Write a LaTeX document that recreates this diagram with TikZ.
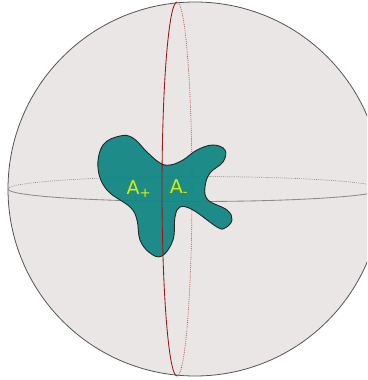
\documentclass[tikz,border=0pt]{standalone}
\usepackage{fontspec}
\setmainfont{DejaVu Sans}
\definecolor{SphereFill}{HTML}{EAE6E5}
\definecolor{SphereEdge}{HTML}{555555}
\definecolor{EquatorGray}{HTML}{8C8A8A}
\definecolor{MeridianRed}{HTML}{9A1616}
\definecolor{BlobTeal}{HTML}{128784}
\definecolor{LabelLime}{HTML}{D2F000}

\begin{document}
\begin{tikzpicture}[
    x=1pt, y=-1pt,
    sphere/.style={draw=SphereEdge, fill=SphereFill, line width=0.8pt},
    backline/.style={line width=0.7pt, dash pattern=on 0.8pt off 1.1pt},
    frontline/.style={line width=0.85pt},
    blob/.style={draw=black!85, fill=BlobTeal, fill opacity=0.95, line width=0.9pt},
    label/.style={text=LabelLime, font=\fontsize{19}{19}\selectfont, inner sep=0pt}
]
\useasboundingbox (0,0) rectangle (367,380);
\clip (0,0) rectangle (367,380);

% Sphere
\coordinate (centre) at (195,189);
\coordinate (axis) at (177,189);
\draw[sphere] (centre) circle[radius=187pt];

% Back halves
\draw[backline, EquatorGray] (centre) ++(187pt,0) arc[start angle=0, end angle=180, x radius=187pt, y radius=12.5pt];
\draw[backline, MeridianRed!80] (axis) ++(0,-187pt) arc[start angle=-90, end angle=90, x radius=15pt, y radius=187pt];

% Equator, front half
\draw[frontline, EquatorGray] (centre) ++(-187pt,0) arc[start angle=180, end angle=360, x radius=187pt, y radius=12.5pt];

% Region A
\draw[blob] plot[smooth cycle, tension=0.65] coordinates {
    (98,168) (103,145) (120,136) (133,138) (147,152) (160,163) (170,165)
    (183,160) (197,150) (213,145) (225,150) (223,162) (210,173) (205,187)
    (208,200) (227,210) (232,220) (225,228) (217,227) (193,210) (180,207)
    (175,217) (173,240) (162,256) (150,253) (140,240) (137,220) (130,207)
    (107,190)};

% Meridian, front half
\draw[frontline, MeridianRed] (axis) ++(0,187pt) arc[start angle=90, end angle=270, x radius=15pt, y radius=187pt];

% Labels
\node[label] (aplus) at (139,189) {A\textsubscript{+}};
\node[label] (aminus) at (179,188) {A\textsubscript{-}};

\end{tikzpicture}
\end{document}
